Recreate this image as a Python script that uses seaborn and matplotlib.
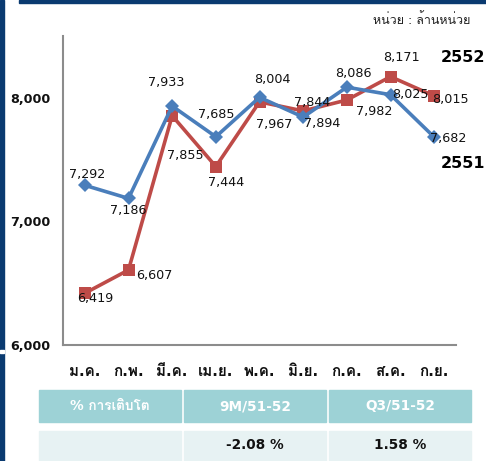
import matplotlib
matplotlib.use("Agg")
import matplotlib.pyplot as plt
import seaborn as sns
import pandas as pd
from matplotlib import font_manager
from matplotlib.ft2font import FT2Font
from matplotlib.patches import Rectangle
from matplotlib.ticker import FuncFormatter, FixedLocator

months = ["ม.ค.", "ก.พ.", "มี.ค.", "เม.ย.", "พ.ค.", "มิ.ย.", "ก.ค.", "ส.ค.", "ก.ย."]
y2551 = [7292, 7186, 7933, 7685, 8004, 7844, 8086, 8025, 7682]
y2552 = [6419, 6607, 7855, 7444, 7967, 7894, 7982, 8171, 8015]
series_names = ["2551", "2552"]
unit_text = "หน่วย : ล้านหน่วย"
table_header = ["% การเติบโต", "9M/51-52", "Q3/51-52"]
table_row = ["", "-2.08 %", "1.58 %"]

# find a font with Thai glyphs
thai = []
for f in font_manager.fontManager.ttflist:
    try:
        if 0x0E01 in FT2Font(f.fname).get_charmap():
            if f.name not in thai:
                thai.append(f.name)
    except Exception:
        pass
if "Loma" in thai:
    thai.remove("Loma")
    thai.insert(0, "Loma")

sns.set_theme(style="white")
plt.rcParams['font.family'] = ['DejaVu Sans'] + thai[:2]

W, H = 486, 461
fig = plt.figure(figsize=(W / 100, H / 100), dpi=100)

def fx(px):
    return px / W

def fy(py):
    return 1 - py / H

ax = fig.add_axes([fx(63), fy(345), fx(456) - fx(63), fy(36) - fy(345)])

blue = "#4A7EBB"
red = "#BE4B48"
xs = list(range(len(months)))
df = pd.DataFrame({"x": xs + xs,
                   "v": y2551 + y2552,
                   "s": [series_names[0]] * len(xs) + [series_names[1]] * len(xs)})

sns.lineplot(data=df[df.s == "2551"], x="x", y="v", color=blue, marker="D",
             markersize=7, markeredgewidth=0, linewidth=2.6, ax=ax, legend=False)
sns.lineplot(data=df[df.s == "2552"], x="x", y="v", color=red, marker="s",
             markersize=9, markeredgewidth=0, linewidth=2.6, ax=ax, legend=False)
ax.lines[0].set_zorder(4)
ax.lines[1].set_zorder(3)

ax.set_xlim(-0.5, len(months) - 0.5)
ax.set_ylim(6000, 8500)
ax.set_xlabel("")
ax.set_ylabel("")

# label offsets in pixels (dx, dy) - layout only
off_b = [(2, 11), (0, -12), (-6, 24), (0, 22), (13, 18), (9, 15), (7, 14), (20, 0), (14, -1)]
off_r = [(10, -5), (26, -6), (13, -40), (10, -16), (15, -23), (19, -13), (27, -11), (11, 19), (16, -4)]
lab_fs = 9.2
for i in xs:
    ax.annotate(f"{y2551[i]:,}", (i, y2551[i]), xytext=off_b[i], textcoords="offset pixels",
                ha="center", va="center", fontsize=lab_fs, color="#111", zorder=6)
    ax.annotate(f"{y2552[i]:,}", (i, y2552[i]), xytext=off_r[i], textcoords="offset pixels",
                ha="center", va="center", fontsize=lab_fs, color="#111", zorder=6)

for s in ["top", "right"]:
    ax.spines[s].set_visible(False)
for s in ["left", "bottom"]:
    ax.spines[s].set_color("#8C8C8C")
    ax.spines[s].set_linewidth(1.5)

ax.yaxis.set_major_locator(FixedLocator([6000, 7000, 8000]))
ax.yaxis.set_major_formatter(FuncFormatter(lambda v, p: f"{int(v):,}"))
ax.tick_params(axis="y", length=4, width=1.2, color="#8C8C8C", direction="out",
               labelsize=9.2, pad=5)
for t in ax.get_yticklabels():
    t.set_fontweight("bold")
    t.set_color("#111")

ax.set_xticks(xs)
ax.set_xticklabels(months, fontsize=11, fontweight="bold", color="#111")
ax.set_xticks([i - 0.5 for i in range(len(months) + 1)], minor=True)
ax.tick_params(axis="x", which="major", length=0, pad=14)
ax.tick_params(axis="x", which="minor", length=5, width=1.2, color="#8C8C8C", direction="out")

# series names
fig.text(fx(485), fy(57), series_names[1], fontsize=11.5, fontweight="bold",
         ha="right", va="center", color="#000")
fig.text(fx(485), fy(163), series_names[0], fontsize=11.5, fontweight="bold",
         ha="right", va="center", color="#000")

# unit text
fig.text(fx(470), fy(20), unit_text, fontsize=9, ha="right", va="center", color="#222")

# borders
navy = "#0A3A70"
fig.patches.append(Rectangle((0, fy(461)), fx(4), fy(0) - fy(461), transform=fig.transFigure,
                             color=navy, zorder=0))
fig.patches.append(Rectangle((fx(19), fy(3)), 1 - fx(19), fy(0) - fy(3), transform=fig.transFigure,
                             color=navy, zorder=0))
fig.patches.append(Rectangle((0, fy(353)), fx(4), fy(350) - fy(353), transform=fig.transFigure,
                             color="white", zorder=1))

# table
cols = [(39, 181), (184, 326), (329, 471)]
for (x0, x1), h, r in zip(cols, table_header, table_row):
    fig.patches.append(Rectangle((fx(x0), fy(422)), fx(x1) - fx(x0), fy(390) - fy(422),
                                 transform=fig.transFigure, color="#9DD2D6", zorder=0))
    fig.text(fx((x0 + x1) / 2), fy(406), h, ha="center", va="center", color="white",
             fontsize=9.8, fontweight="bold")
    fig.patches.append(Rectangle((fx(x0), fy(461)), fx(x1) - fx(x0), fy(431) - fy(461),
                                 transform=fig.transFigure, color="#E7F2F3", zorder=0))
    fig.text(fx((x0 + x1) / 2), fy(445), r, ha="center", va="center", color="#111",
             fontsize=9.8, fontweight="bold")

fig.savefig("out.png", dpi=100)
